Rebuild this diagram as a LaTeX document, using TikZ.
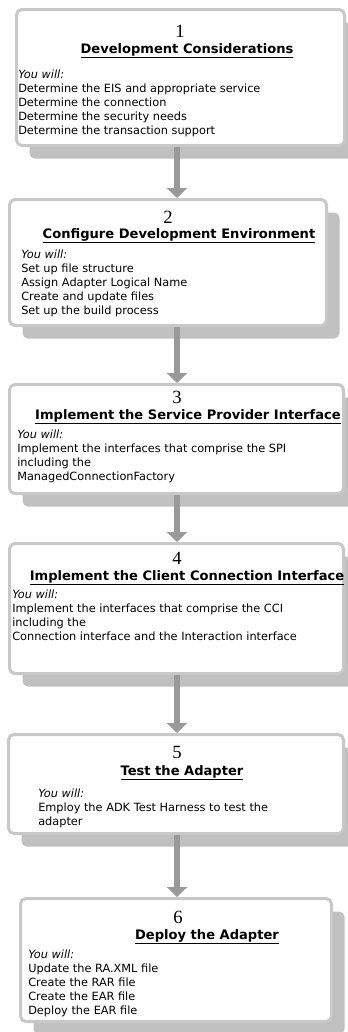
\documentclass[tikz,border=0pt]{standalone}
\usepackage{fontspec}
\setmainfont{DejaVu Sans}
\newfontfamily\numfont{Liberation Serif}
\usetikzlibrary{
  shadows,arrows.meta
}
\definecolor{framegray}{HTML}{C8C8C8}
\definecolor{shadegray}{HTML}{C0C0C0}
\definecolor{arrowgray}{HTML}{999999}

\tikzset{
  stepbox/.style 2 args={draw=framegray,line width=2.25pt,fill=white,
    rounded corners=4pt,inner sep=0pt,
    minimum width=#1*0.75pt,minimum height=#2*0.75pt,
    drop shadow={shadow xshift=9.75pt,shadow yshift=-9.75pt,
      fill=shadegray,opacity=1}},
  stepnum/.style={font=\numfont\fontsize{14}{14}\selectfont,inner sep=0pt,anchor=base},
  steptitle/.style={font=\bfseries\fontsize{9.8}{11}\selectfont,inner sep=0pt,anchor=base},
  steptext/.style={font=\fontsize{8.5}{10.5}\selectfont,inner sep=0pt,
    align=left,anchor=north west},
  flow/.style={arrowgray,line width=5pt,-{Triangle[width=15pt,length=7.5pt]}}
}

\begin{document}
\begin{tikzpicture}[x=0.75pt,y=0.75pt]
\useasboundingbox (0,0) rectangle (347,-1032);

\node[stepbox={328}{136}] (b1) at (180.5,-77.5) {};
\node[stepbox={317}{126}] (b2) at (168,-262.5) {};
\node[stepbox={334}{109}] (b3) at (176.5,-439) {};
\node[stepbox={334}{130}] (b4) at (176.5,-608.5) {};
\node[stepbox={335}{99}] (b5) at (176,-784) {};
\node[stepbox={311}{123}] (b6) at (176,-960) {};

% step 1
\node[stepnum] (n1) at (180,-37) {1};
\node[steptitle] (t1) at (187,-53) {\underline{Development Considerations}};
\node[steptext] (d1) at (18,-70) {\textit{You will:}\\Determine the EIS and appropriate service\\
  Determine the connection\\Determine the security needs\\Determine the transaction support};

% step 2
\node[stepnum] (n2) at (168,-223) {2};
\node[steptitle] (t2) at (179,-238) {\underline{Configure Development Environment}};
\node[steptext] (d2) at (21,-250) {\textit{You will:}\\Set up file structure\\
  Assign Adapter Logical Name\\Create and update files\\Set up the build process};

% step 3
\node[stepnum] (n3) at (177,-403) {3};
\node[steptitle] (t3) at (188,-419) {\underline{Implement the Service Provider Interface}};
\node[steptext] (d3) at (17,-430) {\textit{You will:}\\Implement the interfaces that comprise the SPI\\
  including the\\ManagedConnectionFactory};

% step 4
\node[stepnum] (n4) at (177,-564) {4};
\node[steptitle] (t4) at (187,-580) {\underline{Implement the Client Connection Interface}};
\node[steptext] (d4) at (12,-590) {\textit{You will:}\\Implement the interfaces that comprise the CCI\\
  including the\\Connection interface and the Interaction interface};

% step 5
\node[stepnum] (n5) at (177,-758) {5};
\node[steptitle] (t5) at (182,-775) {\underline{Test the Adapter}};
\node[steptext] (d5) at (38,-789) {\textit{You will:}\\Employ the ADK Test Harness to test the\\adapter};

% step 6
\node[stepnum] (n6) at (178,-923) {6};
\node[steptitle] (t6) at (207,-939) {\underline{Deploy the Adapter}};
\node[steptext] (d6) at (28,-950) {\textit{You will:}\\Update the RA.XML file\\
  Create the RAR file\\Create the EAR file\\Deploy the EAR file};

\coordinate (ax) at (177,0);
\draw[flow] (b1.south -| ax) -- (b2.north -| ax);
\draw[flow] (b2.south -| ax) -- (b3.north -| ax);
\draw[flow] (b3.south -| ax) -- (b4.north -| ax);
\draw[flow] (b4.south -| ax) -- (b5.north -| ax);
\draw[flow] (b5.south -| ax) -- (b6.north -| ax);
\end{tikzpicture}
\end{document}
